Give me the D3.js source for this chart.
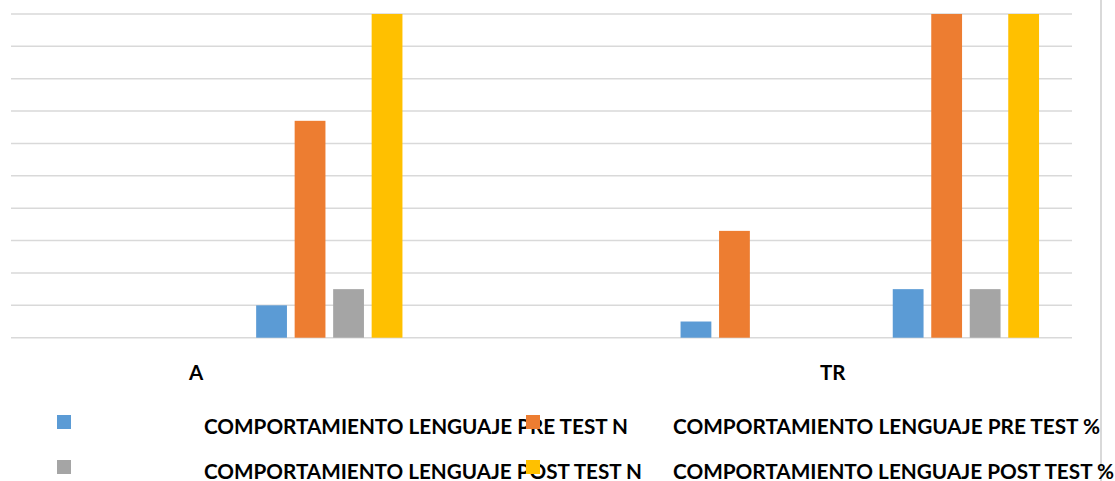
<!DOCTYPE html>
<html>
<head>
<meta charset="utf-8">
<script src="https://cdn.jsdelivr.net/npm/d3@7"></script>
<style>
  html, body { margin: 0; padding: 0; background: #fff; }
  svg { display: block; }
  text { font-family: Lato, "Open Sans", "Liberation Sans", sans-serif; font-weight: 700; fill: #000; }
</style>
</head>
<body>
<svg id="chart" width="1115" height="481"></svg>
<script>
// ---- data ----
const slots = ["A-1", "A-2", "gap", "TR-1", "TR-2"];
const categories = ["A", "TR"];
const categorySlots = [["A-1", "A-2"], ["TR-1", "TR-2"]];
const seriesNames = [
  "COMPORTAMIENTO LENGUAJE PRE TEST N",
  "COMPORTAMIENTO LENGUAJE PRE TEST %",
  "COMPORTAMIENTO LENGUAJE POST TEST N",
  "COMPORTAMIENTO LENGUAJE POST TEST %"
];
const preTestN     = [0, 1,   0, 0.5, 1.5];
const preTestPct   = [0, 6.7, 0, 3.3, 10];
const postTestN    = [0, 1.5, 0, 0,   1.5];
const postTestPct  = [0, 10,  0, 0,   10];
const yTicks = [0, 1, 2, 3, 4, 5, 6, 7, 8, 9, 10];

const seriesValues = [preTestN, preTestPct, postTestN, postTestPct];
const colors = ["#5B9BD5", "#ED7D31", "#A5A5A5", "#FFC000"];

// ---- layout ----
const svg = d3.select("#chart");
const plotLeft = 11, plotRight = 1072, plotTop = 14, plotBottom = 337.7;

const x0 = d3.scaleBand().domain(slots).range([plotLeft, plotRight]).padding(0);
const x1 = d3.scaleBand().domain(seriesNames).range([0, x0.bandwidth()])
  .paddingInner(0.2).paddingOuter(0.856);
const y = d3.scaleLinear().domain([0, 10]).range([plotBottom, plotTop]);

// gridlines
svg.append("g").selectAll("line").data(yTicks).join("line")
  .attr("x1", plotLeft).attr("x2", plotRight)
  .attr("y1", d => y(d)).attr("y2", d => y(d))
  .attr("stroke", "#d9d9d9").attr("stroke-width", 1.5);

// bars
const rows = [];
seriesNames.forEach((s, si) => {
  slots.forEach((c, ci) => {
    rows.push({ series: s, slot: c, value: seriesValues[si][ci], color: colors[si] });
  });
});
svg.append("g").selectAll("rect").data(rows.filter(d => d.value > 0)).join("rect")
  .attr("x", d => x0(d.slot) + x1(d.series))
  .attr("width", x1.bandwidth())
  .attr("y", d => y(d.value))
  .attr("height", d => y(0) - y(d.value))
  .attr("fill", d => d.color);

// category labels
const labelShift = -27;
svg.append("g").selectAll("text").data(categories).join("text")
  .attr("x", (d, i) => {
    const s = categorySlots[i];
    return (x0(s[0]) + x0(s[s.length - 1]) + x0.bandwidth()) / 2 + labelShift;
  })
  .attr("y", 380)
  .attr("text-anchor", "middle")
  .attr("font-size", "20.5px")
  .text(d => d);

// right border line
svg.append("line")
  .attr("x1", 1101).attr("x2", 1101).attr("y1", 0).attr("y2", 481)
  .attr("stroke", "#d9d9d9").attr("stroke-width", 2);

// legend (as laid out in the reference)
const legendItems = [
  { text: seriesNames[0], tx: 204, ty: 434, len: 424, mx: 57,  my: 415, color: colors[0] },
  { text: seriesNames[1], tx: 673, ty: 434, len: 427, mx: 526, my: 415, color: colors[1] },
  { text: seriesNames[2], tx: 204, ty: 479, len: 438, mx: 57,  my: 460, color: colors[2] },
  { text: seriesNames[3], tx: 673, ty: 479, len: 441, mx: 526, my: 460, color: colors[3] }
];
const lg = svg.append("g");
lg.selectAll("text").data(legendItems).join("text")
  .attr("x", d => d.tx).attr("y", d => d.ty)
  .attr("font-size", "20.5px")
  .attr("textLength", d => d.len)
  .attr("lengthAdjust", "spacingAndGlyphs")
  .text(d => d.text);
lg.selectAll("rect").data(legendItems).join("rect")
  .attr("x", d => d.mx).attr("y", d => d.my)
  .attr("width", 14).attr("height", 14)
  .attr("fill", d => d.color);
</script>
</body>
</html>
